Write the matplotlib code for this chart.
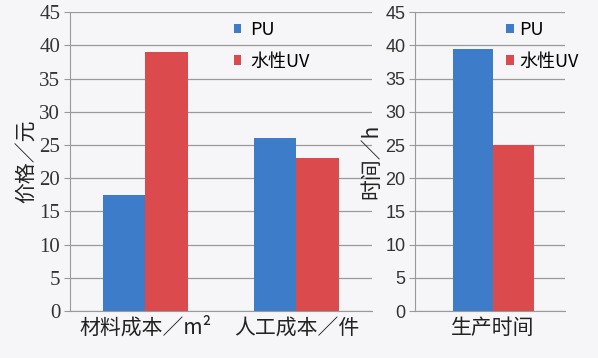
import matplotlib
matplotlib.use("Agg")
import matplotlib.pyplot as plt
import numpy as np

plt.rcParams['font.family'] = ['Noto Sans CJK SC', 'DejaVu Sans']

series = ['PU', '水性UV']
cost_categories = ['材料成本／m²', '人工成本／件']
cost_pu = [17.5, 26]
cost_uv = [39, 23]
time_categories = ['生产时间']
time_pu = [39.5]
time_uv = [25]
yticks = [0, 5, 10, 15, 20, 25, 30, 35, 40, 45]

blue = '#3d7cc9'
red = '#db4a4c'
bg = '#f6f6f8'
grid = '#9a9a9a'

fig = plt.figure(figsize=(5.98, 3.58), dpi=100, facecolor=bg)
ax1 = fig.add_axes([0.117, 0.131, 0.505, 0.835])
ax2 = fig.add_axes([0.694, 0.131, 0.251, 0.835])

def style(ax):
    ax.set_facecolor(bg)
    ax.set_ylim(0, 45)
    ax.set_yticks(yticks)
    ax.yaxis.grid(True, color=grid, linewidth=0.9)
    ax.set_axisbelow(True)
    for s in ['top', 'right']:
        ax.spines[s].set_visible(False)
    ax.spines['left'].set_color(grid)
    ax.spines['bottom'].set_color(grid)
    ax.tick_params(axis='y', length=4, color=grid, pad=3)
    ax.tick_params(axis='x', length=0, pad=4)

def tickfont(ax, fam, size):
    fig.canvas.draw()
    for lab in ax.get_yticklabels():
        lab.set_family(fam)
        lab.set_fontsize(size)
        lab.set_color('#333333')

w = 0.28
x1 = np.arange(len(cost_categories))
ax1.bar(x1 - w/2, cost_pu, w, color=blue, label=series[0], zorder=3)
ax1.bar(x1 + w/2, cost_uv, w, color=red, label=series[1], zorder=3)
ax1.set_xlim(-0.5, 1.5)
ax1.set_xticks(x1)
ax1.set_xticklabels(cost_categories, fontsize=15, color='#222222')
style(ax1)
ax1.set_ylabel('价格／元', fontsize=15, color='#222222', labelpad=2)
ax1.legend(loc='upper left', bbox_to_anchor=(0.49, 1.025), frameon=False,
           prop={'size': 13, 'weight': 'medium'}, handlelength=0.4, handleheight=0.4,
           handletextpad=0.5, labelspacing=0.75)

x2 = np.arange(len(time_categories))
w2 = 0.27
ax2.bar(x2 - w2/2, time_pu, w2, color=blue, label=series[0], zorder=3)
ax2.bar(x2 + w2/2, time_uv, w2, color=red, label=series[1], zorder=3)
ax2.set_xlim(-0.52, 0.48)
ax2.set_xticks(x2)
ax2.set_xticklabels(time_categories, fontsize=15, color='#222222')
style(ax2)
ax2.set_ylabel('时间／h', fontsize=15, color='#222222', labelpad=2)
ax2.legend(loc='upper left', bbox_to_anchor=(0.5, 1.025), frameon=False,
           prop={'size': 13, 'weight': 'medium'}, handlelength=0.4, handleheight=0.4,
           handletextpad=0.3, labelspacing=0.75)

tickfont(ax1, ['Liberation Serif', 'DejaVu Serif'], 15)
tickfont(ax2, ['Liberation Sans', 'DejaVu Sans'], 13)

fig.savefig('out.png', dpi=100, facecolor=bg)
